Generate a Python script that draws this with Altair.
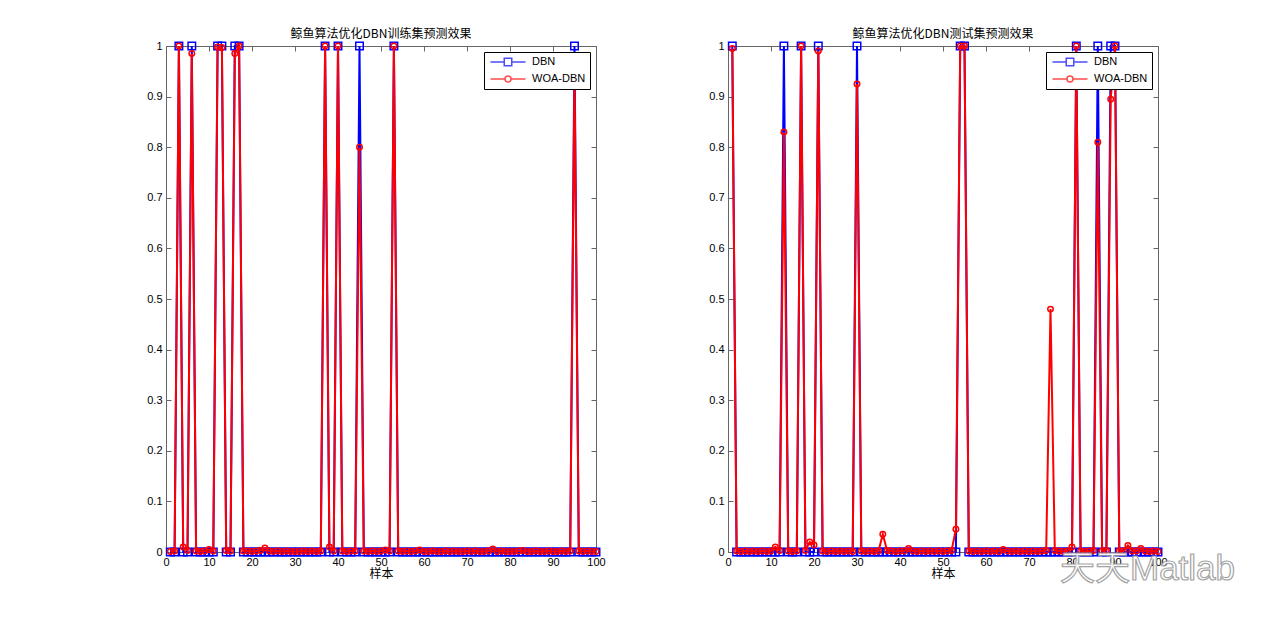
import altair as alt
import pandas as pd

sample = list(range(1, 101))

train_dbn = [0, 0, 1, 0, 0, 1, 0, 0, 0, 0,
             0, 1, 1, 0, 0, 1, 1, 0, 0, 0,
             0, 0, 0, 0, 0, 0, 0, 0, 0, 0,
             0, 0, 0, 0, 0, 0, 1, 0, 0, 1,
             0, 0, 0, 0, 1, 0, 0, 0, 0, 0,
             0, 0, 1, 0, 0, 0, 0, 0, 0, 0,
             0, 0, 0, 0, 0, 0, 0, 0, 0, 0,
             0, 0, 0, 0, 0, 0, 0, 0, 0, 0,
             0, 0, 0, 0, 0, 0, 0, 0, 0, 0,
             0, 0, 0, 0, 1, 0, 0, 0, 0, 0]

train_woa = [0.001, 0.002, 1.0, 0.01, 0.003, 0.985, 0.002, 0.001, 0.002, 0.005,
             0.002, 0.998, 0.997, 0.003, 0.002, 0.985, 1.0, 0.002, 0.002, 0.001,
             0.002, 0.003, 0.008, 0.002, 0.001, 0.002, 0.001, 0.002, 0.001, 0.001,
             0.001, 0.002, 0.001, 0.002, 0.001, 0.002, 1.0, 0.01, 0.002, 1.0,
             0.002, 0.001, 0.002, 0.002, 0.80, 0.002, 0.001, 0.002, 0.001, 0.002,
             0.004, 0.002, 1.0, 0.002, 0.001, 0.002, 0.001, 0.002, 0.004, 0.001,
             0.001, 0.002, 0.001, 0.001, 0.002, 0.001, 0.002, 0.001, 0.001, 0.002,
             0.001, 0.002, 0.001, 0.001, 0.002, 0.006, 0.001, 0.002, 0.001, 0.001,
             0.001, 0.002, 0.003, 0.001, 0.001, 0.002, 0.001, 0.001, 0.002, 0.001,
             0.001, 0.002, 0.001, 0.002, 0.95, 0.002, 0.001, 0.002, 0.001, 0.001]

test_dbn = [1, 0, 0, 0, 0, 0, 0, 0, 0, 0,
            0, 0, 1, 0, 0, 0, 1, 0, 0, 0,
            1, 0, 0, 0, 0, 0, 0, 0, 0, 1,
            0, 0, 0, 0, 0, 0, 0, 0, 0, 0,
            0, 0, 0, 0, 0, 0, 0, 0, 0, 0,
            0, 0, 0, 1, 1, 0, 0, 0, 0, 0,
            0, 0, 0, 0, 0, 0, 0, 0, 0, 0,
            0, 0, 0, 0, 0, 0, 0, 0, 0, 0,
            1, 0, 0, 0, 0, 1, 0, 0, 1, 1,
            0, 0, 0, 0, 0, 0, 0, 0, 0, 0]

test_woa = [0.995, 0.002, 0.001, 0.002, 0.001, 0.002, 0.001, 0.002, 0.001, 0.002,
            0.01, 0.003, 0.83, 0.002, 0.001, 0.002, 1.0, 0.003, 0.02, 0.014,
            0.99, 0.002, 0.001, 0.002, 0.001, 0.002, 0.001, 0.002, 0.001, 0.925,
            0.002, 0.001, 0.002, 0.001, 0.002, 0.035, 0.003, 0.002, 0.001, 0.002,
            0.002, 0.007, 0.002, 0.001, 0.002, 0.001, 0.002, 0.001, 0.002, 0.001,
            0.002, 0.003, 0.045, 1.0, 1.0, 0.002, 0.001, 0.002, 0.001, 0.002,
            0.001, 0.002, 0.001, 0.005, 0.002, 0.001, 0.002, 0.001, 0.002, 0.001,
            0.002, 0.001, 0.002, 0.003, 0.48, 0.003, 0.002, 0.001, 0.002, 0.01,
            1.0, 0.002, 0.001, 0.002, 0.003, 0.81, 0.002, 0.003, 0.895, 1.0,
            0.002, 0.002, 0.013, 0.002, 0.002, 0.007, 0.002, 0.001, 0.002, 0.001]

x_ticks = [0, 10, 20, 30, 40, 50, 60, 70, 80, 90, 100]
y_ticks = [0, 0.1, 0.2, 0.3, 0.4, 0.5, 0.6, 0.7, 0.8, 0.9, 1]
series_names = ["DBN", "WOA-DBN"]
series_colors = ["#0000ff", "#ff0000"]
panel_titles = ["鲸鱼算法优化DBN训练集预测效果", "鲸鱼算法优化DBN测试集预测效果"]
x_title = "样本"
watermark = "天天Matlab"

LATIN = "Liberation Sans"
CJK = "Noto Sans CJK SC"
FRAME = "#666666"

# legend symbols: a line segment with the marker in the middle
sq_path = "M-3.5,0H-0.75M0.75,0H3.5M-0.75,-0.75H0.75V0.75H-0.75Z"
circ_path = ("M-3.5,0H-0.6M0.6,0H3.5M-0.6,0A0.6,0.6 0 1,0 0.6,0"
             "A0.6,0.6 0 1,0 -0.6,0Z")

PW, PH = 430, 506


def panel(dbn, woa, title, with_watermark=False):
    df = pd.DataFrame({"sample": sample, "DBN": dbn, "WOA": woa})
    xs = alt.Scale(domain=[0, 100], nice=False, zero=False)
    ys = alt.Scale(domain=[0, 1], nice=False)

    ax_x_lab = alt.Axis(values=x_ticks, tickSize=0, domain=False, grid=False,
                        labelPadding=4, labelFont=LATIN, labelFontSize=11,
                        labelColor="#000000", title=x_title, titleFont=CJK,
                        titleFontSize=12, titleFontWeight="normal",
                        titleColor="#000000", titlePadding=1, format="d",
                        labelFlush=False)
    ax_y_lab = alt.Axis(values=y_ticks, tickSize=0, domain=False, grid=False,
                        labelPadding=4, labelFont=LATIN, labelFontSize=11,
                        labelColor="#000000", title=None, format="~g")
    tick_common = dict(tickSize=5, labels=False, domain=False, grid=False,
                       title=None, offset=-5, tickColor=FRAME, tickWidth=1)
    ax_x_bottom = alt.Axis(values=x_ticks, orient="bottom", **tick_common)
    ax_x_top = alt.Axis(values=x_ticks, orient="top", **tick_common)
    ax_y_left = alt.Axis(values=y_ticks, orient="left", **tick_common)
    ax_y_right = alt.Axis(values=y_ticks, orient="right", **tick_common)

    base = alt.Chart(df)
    dbn_line = base.mark_line(color=series_colors[0], strokeWidth=2).encode(
        x=alt.X("sample:Q", scale=xs, axis=ax_x_lab),
        y=alt.Y("DBN:Q", scale=ys, axis=ax_y_lab),
    )
    dbn_pts = base.mark_point(shape="square", size=56, color=series_colors[0],
                              strokeWidth=1.5, filled=False, opacity=1).encode(
        x=alt.X("sample:Q", scale=xs, axis=ax_x_bottom),
        y=alt.Y("DBN:Q", scale=ys, axis=ax_y_left),
    )
    woa_line = base.mark_line(color=series_colors[1], strokeWidth=2).encode(
        x=alt.X("sample:Q", scale=xs, axis=ax_x_top),
        y=alt.Y("WOA:Q", scale=ys, axis=ax_y_right),
    )
    woa_pts = base.mark_point(shape="circle", size=30, color=series_colors[1],
                              strokeWidth=1.5, filled=False, opacity=1).encode(
        x=alt.X("sample:Q", scale=xs, axis=None),
        y=alt.Y("WOA:Q", scale=ys, axis=None),
    )

    leg = alt.Legend(title=None, orient="top-right", offset=6,
                     strokeColor="#000000", fillColor="#ffffff", padding=4,
                     labelFont=LATIN, labelFontSize=11, labelColor="#000000",
                     symbolSize=100, symbolStrokeWidth=1.5, symbolOffset=14,
                     labelOffset=18, rowPadding=4, cornerRadius=0)
    leg_df = pd.DataFrame({"series": series_names})
    legend_layer = alt.Chart(leg_df).transform_filter("false").mark_point(
        filled=False, strokeWidth=1.5).encode(
        color=alt.Color("series:N", scale=alt.Scale(domain=series_names,
                                                    range=series_colors),
                        legend=leg),
        shape=alt.Shape("series:N", scale=alt.Scale(domain=series_names,
                                                    range=[sq_path, circ_path]),
                        legend=leg),
    )

    layers = [dbn_line, dbn_pts, woa_line, woa_pts, legend_layer]
    if with_watermark:
        wm = alt.Chart(pd.DataFrame({"t": [watermark]})).mark_text(
            font=LATIN + ", " + CJK, fontSize=35, align="left",
            baseline="alphabetic", fill="#ffffff", stroke="#9a9a9a",
            strokeWidth=1.2, opacity=0.9).encode(
            text="t:N", x=alt.value(332), y=alt.value(534))
        layers.append(wm)

    return alt.layer(*layers).resolve_axis(x="independent", y="independent").properties(
        width=PW, height=PH,
        title=alt.TitleParams(title, font=CJK, fontSize=12, fontWeight="normal",
                              color="#000000", offset=-2, anchor="middle"),
    )


chart = alt.hconcat(
    panel(train_dbn, train_woa, panel_titles[0]),
    panel(test_dbn, test_woa, panel_titles[1], with_watermark=True),
    spacing=102,
).resolve_scale(
    color="independent", shape="independent"
).resolve_legend(
    color="independent", shape="independent"
).properties(
    padding={"left": 146, "top": 27, "right": 5, "bottom": 5},
    background="#ffffff",
).configure_view(stroke=FRAME, strokeWidth=1)

chart.save("out.html", embed_options={"renderer": "svg", "actions": False})
